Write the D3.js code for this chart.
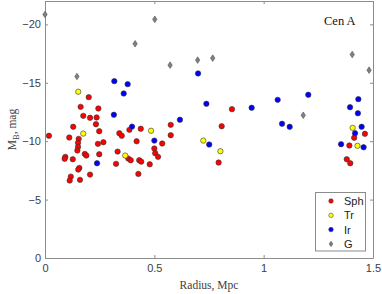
<html>
    <head>
        <title> Cen A | D3 </title>
        <script src="https://d3js.org/d3.v7.min.js" charset="utf-8"></script>
        <style>
        body{
            margin: 0;
            background: white;
        }
        .tick text{
            font-family: "Liberation Sans", Arial, sans-serif;
            font-size: 11px;
            fill: #404040;
        }
        </style>
    </head>
    <body>
        <script>
            //size of graphic
            var width = 382;
            var height = 294;

            // radius in Mpc, M_B in mag
            var sphR = [0.200,0.163,0.244,0.175,0.206,0.236,0.233,0.129,0.248,0.018,0.111,0.154,0.340,0.351,0.151,0.242,0.267,0.151,0.148,0.332,0.381,0.182,0.189,0.248,0.093,0.090,0.127,0.325,0.157,0.152,0.206,0.118,0.113,0.160,0.386,0.438,0.419,0.575,0.575,0.536,0.500,0.504,0.517,0.392,0.431,0.440,0.479,0.427,0.855,0.808,0.794,1.463,1.414,1.392,1.380,1.396];
            var sphM = [-13.77,-12.94,-12.80,-12.17,-12.00,-12.03,-11.45,-11.23,-10.85,-10.46,-10.31,-10.20,-10.68,-10.46,-9.86,-9.77,-9.91,-9.51,-9.20,-9.11,-8.51,-8.91,-8.77,-8.88,-8.66,-8.49,-8.45,-8.06,-7.71,-7.57,-7.14,-6.97,-6.63,-6.69,-10.97,-11.06,-9.99,-11.40,-10.51,-9.80,-9.37,-8.97,-8.66,-8.37,-8.37,-8.25,-8.02,-7.20,-12.74,-11.28,-8.17,-10.63,-10.29,-9.63,-8.45,-8.11];
            var trR = [0.152,0.175,0.367,0.485,0.724,0.802,1.407,1.429];
            var trM = [-14.23,-10.65,-8.77,-10.89,-10.05,-9.14,-11.14,-9.60];
            var irR = [0.317,0.378,0.360,0.315,0.238,0.700,0.738,0.617,0.398,0.500,0.751,0.945,1.064,1.204,1.084,1.119,1.433,1.395,1.431,1.448,1.418,1.354,1.457];
            var irM = [-15.14,-14.88,-14.08,-12.26,-8.11,-15.80,-13.20,-11.83,-11.25,-10.05,-9.71,-12.86,-13.54,-13.97,-11.49,-11.23,-13.60,-12.91,-12.39,-11.23,-10.68,-9.74,-9.48];
            var gR = [0.000,0.146,0.502,0.412,0.572,0.698,0.767,1.181,1.405,1.482];
            var gM = [-20.85,-15.54,-20.43,-18.34,-16.51,-16.94,-17.11,-12.22,-17.42,-16.08];

            var xTicks = [0, 0.5, 1, 1.5];
            var yTicks = [0, -5, -10, -15, -20];
            var legendNames = ["Sph", "Tr", "Ir", "G"];
            var legendColors = ["#ff0000", "#ffff00", "#0000ff", "#808080"];

            //plot box (window.top is taken, so own names)
            var pLeft = 45, pRight = 373, pTop = 1, pBottom = 258;

            var x = d3.scaleLinear().domain([0, 1.5]).range([pLeft, pRight]);
            var y = d3.scaleLinear().domain([0, -22]).range([pBottom, pTop]);

            var svg = d3.select("body")
            .append("svg")
            .attr("width", width)
            .attr("height", height);

            //axes on all four sides, ticks pointing in
            var axisColor = "#8c8c8c";
            svg.append("g")
            .attr("transform", "translate(0," + pBottom + ")")
            .call(d3.axisBottom(x).tickValues(xTicks).tickSizeInner(-3).tickSizeOuter(0).tickPadding(6)
                .tickFormat(function(d){ return d3.format("")(d); }));
            svg.append("g")
            .attr("transform", "translate(0," + pTop + ")")
            .call(d3.axisTop(x).tickValues(xTicks).tickSizeInner(-3).tickSizeOuter(0).tickFormat(""));
            svg.append("g")
            .attr("transform", "translate(" + pLeft + ",0)")
            .call(d3.axisLeft(y).tickValues(yTicks).tickSizeInner(-3).tickSizeOuter(0).tickPadding(4));
            svg.append("g")
            .attr("transform", "translate(" + pRight + ",0)")
            .call(d3.axisRight(y).tickValues(yTicks).tickSizeInner(-3).tickSizeOuter(0).tickFormat(""));

            svg.selectAll(".domain").attr("stroke", axisColor);
            svg.selectAll(".tick line").attr("stroke", axisColor);

            //scatter layers
            function circles(rs, ms, color){
                svg.append("g").selectAll("circle")
                .data(rs)
                .enter()
                .append("circle")
                .attr("cx", function(d){ return x(d); })
                .attr("cy", function(d, i){ return y(ms[i]); })
                .attr("r", 2.7)
                .attr("fill", color)
                .attr("stroke", "#333")
                .attr("stroke-width", 0.6);
            }
            var diamond = "M0,-3.3L2.2,0L0,3.3L-2.2,0Z";
            circles(sphR, sphM, legendColors[0]);
            circles(trR, trM, legendColors[1]);
            circles(irR, irM, legendColors[2]);
            svg.append("g").selectAll("path")
            .data(gR)
            .enter()
            .append("path")
            .attr("d", diamond)
            .attr("transform", function(d, i){ return "translate(" + x(d) + "," + y(gM[i]) + ")"; })
            .attr("fill", legendColors[3])
            .attr("stroke", "#555")
            .attr("stroke-width", 0.6);

            //label in corner
            svg.append("text")
            .attr("x", 324)
            .attr("y", 25)
            .attr("font-family", "Liberation Serif, Times New Roman, serif")
            .attr("font-size", 12.5)
            .attr("fill", "#111")
            .text("Cen A");

            //axis titles
            svg.append("text")
            .attr("x", (pLeft + pRight) / 2)
            .attr("y", 289)
            .attr("text-anchor", "middle")
            .attr("font-family", "Liberation Serif, Times New Roman, serif")
            .attr("font-size", 11.5)
            .attr("fill", "#404040")
            .text("Radius, Mpc");

            var ylab = svg.append("text")
            .attr("transform", "translate(16," + ((pTop + pBottom) / 2) + ") rotate(-90)")
            .attr("text-anchor", "middle")
            .attr("font-family", "Liberation Serif, Times New Roman, serif")
            .attr("font-size", 11.5)
            .attr("fill", "#404040");
            ylab.append("tspan").text("M");
            ylab.append("tspan").attr("dy", 3).attr("font-size", 8.5).text("B");
            ylab.append("tspan").attr("dy", -3).text(", mag");

            //legend box
            var leg = svg.append("g");
            leg.append("rect")
            .attr("x", 315.5)
            .attr("y", 192.5)
            .attr("width", 50)
            .attr("height", 58.5)
            .attr("fill", "white")
            .attr("stroke", axisColor)
            .attr("stroke-width", 1);
            var rows = leg.selectAll(".row")
            .data(legendNames)
            .enter()
            .append("g")
            .attr("transform", function(d, i){ return "translate(331," + (201 + i * 14.3) + ")"; });
            rows.append("path")
            .attr("d", function(d, i){
                return i == 3 ? "M0,-2.6L1.8,0L0,2.6L-1.8,0Z" : d3.symbol().type(d3.symbolCircle).size(16)();
            })
            .attr("fill", function(d, i){ return legendColors[i]; })
            .attr("stroke", "#333")
            .attr("stroke-width", 0.5);
            rows.append("text")
            .attr("x", 13)
            .attr("y", 4)
            .attr("font-family", "Liberation Sans, Arial, sans-serif")
            .attr("font-size", 11)
            .attr("fill", "#222")
            .text(function(d){ return d; });
        </script>
    </body>
</html>
